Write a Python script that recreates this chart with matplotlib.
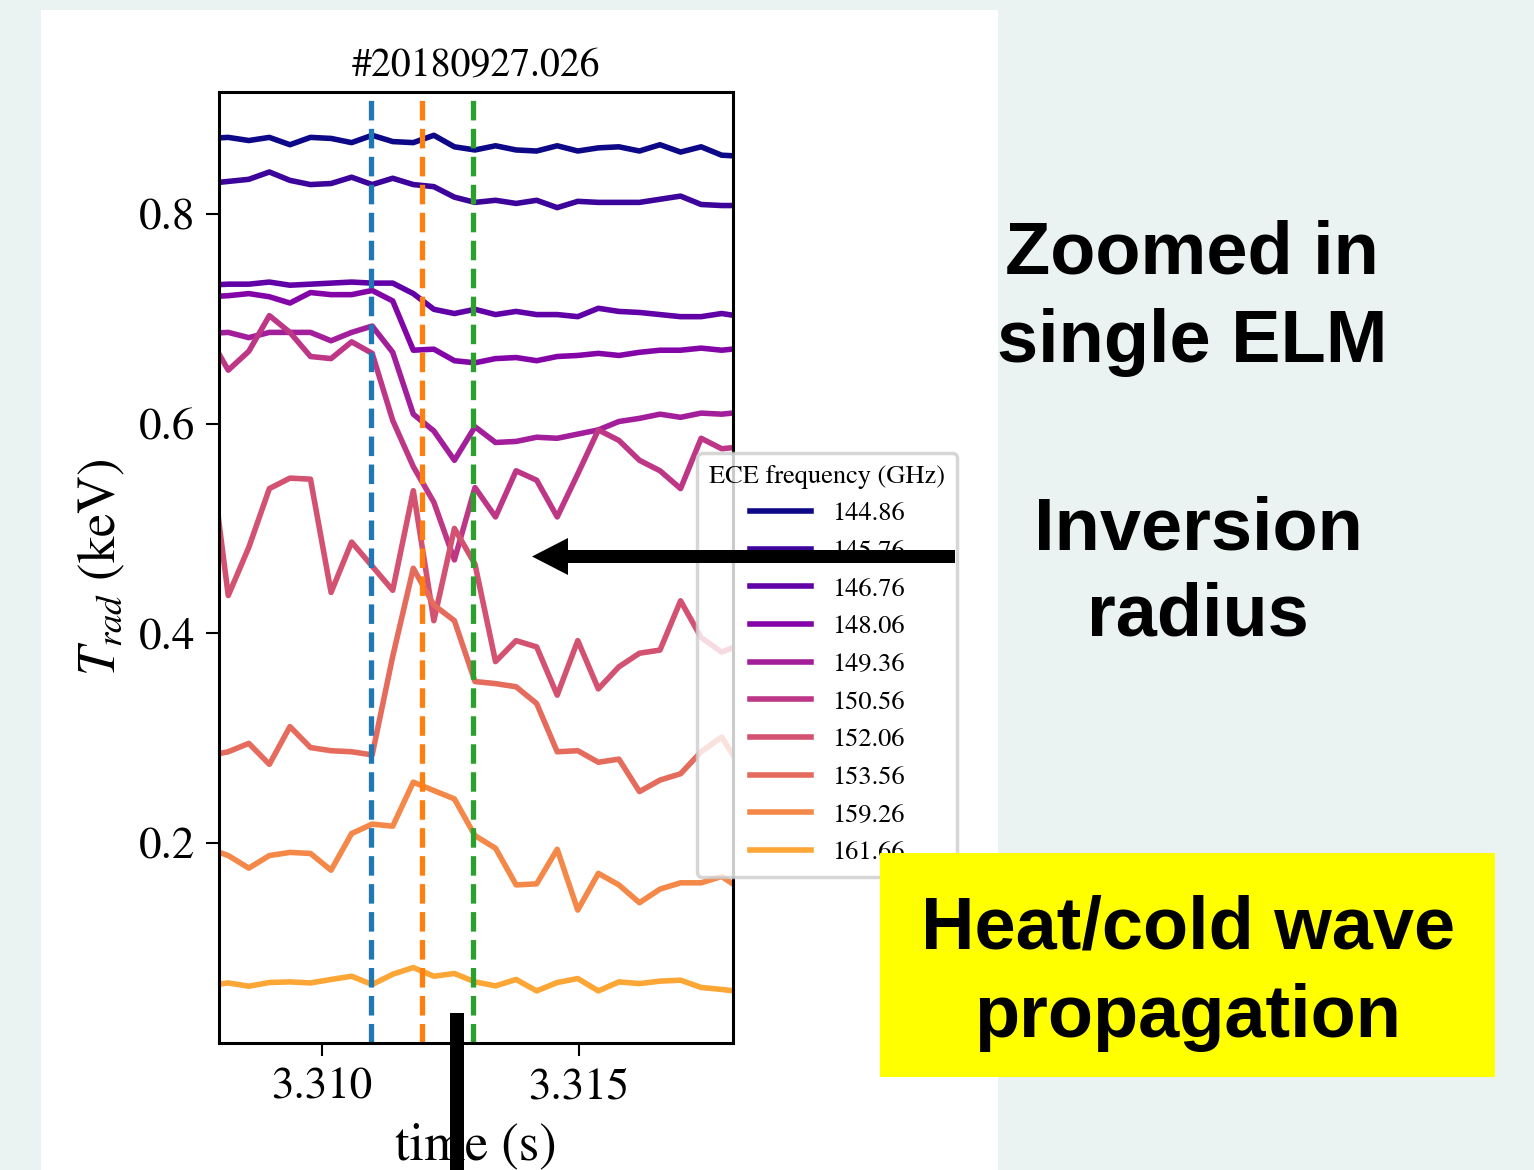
import numpy as np
import matplotlib
matplotlib.use('Agg')
import matplotlib.pyplot as plt
from matplotlib.patches import Rectangle, Polygon

# ---------------- data ----------------
time = [3.30778, 3.30818, 3.30858, 3.30898, 3.30938, 3.30978, 3.31018, 3.31058,
        3.31098, 3.31138, 3.31178, 3.31218, 3.31258, 3.31298, 3.31338, 3.31378,
        3.31418, 3.31458, 3.31498, 3.31538, 3.31578, 3.31618, 3.31658, 3.31698,
        3.31738, 3.31778, 3.31818]

freqs = ["144.86", "145.76", "146.76", "148.06", "149.36",
         "150.56", "152.06", "153.56", "159.26", "161.66"]

t_144_86 = [0.872, 0.873, 0.870, 0.873, 0.866, 0.873, 0.872, 0.868, 0.875, 0.869,
            0.868, 0.875, 0.864, 0.861, 0.865, 0.861, 0.860, 0.865, 0.860, 0.863,
            0.864, 0.860, 0.866, 0.859, 0.864, 0.856, 0.855]
t_145_76 = [0.829, 0.831, 0.833, 0.840, 0.832, 0.828, 0.829, 0.835, 0.828, 0.834,
            0.828, 0.826, 0.816, 0.811, 0.813, 0.810, 0.813, 0.806, 0.812, 0.811,
            0.811, 0.811, 0.814, 0.817, 0.809, 0.808, 0.808]
t_146_76 = [0.732, 0.733, 0.733, 0.735, 0.732, 0.733, 0.734, 0.735, 0.734, 0.734,
            0.724, 0.709, 0.705, 0.709, 0.704, 0.707, 0.704, 0.704, 0.702, 0.710,
            0.707, 0.706, 0.704, 0.702, 0.702, 0.705, 0.702]
t_148_06 = [0.721, 0.722, 0.724, 0.721, 0.715, 0.725, 0.723, 0.723, 0.727, 0.717,
            0.670, 0.671, 0.660, 0.658, 0.662, 0.663, 0.660, 0.664, 0.665, 0.667,
            0.665, 0.668, 0.670, 0.670, 0.672, 0.670, 0.672]
t_149_36 = [0.686, 0.687, 0.682, 0.687, 0.687, 0.687, 0.679, 0.687, 0.693, 0.668,
            0.609, 0.593, 0.565, 0.597, 0.582, 0.583, 0.587, 0.586, 0.590, 0.594,
            0.602, 0.605, 0.609, 0.606, 0.610, 0.609, 0.611]
t_150_56 = [0.685, 0.651, 0.669, 0.703, 0.687, 0.664, 0.662, 0.678, 0.667, 0.603,
            0.559, 0.525, 0.470, 0.539, 0.511, 0.555, 0.546, 0.511, 0.552, 0.594,
            0.584, 0.565, 0.555, 0.538, 0.586, 0.576, 0.578]
t_152_06 = [0.590, 0.436, 0.482, 0.538, 0.548, 0.547, 0.439, 0.487, 0.464, 0.441,
            0.536, 0.412, 0.500, 0.466, 0.373, 0.393, 0.387, 0.341, 0.393, 0.347,
            0.368, 0.381, 0.384, 0.431, 0.396, 0.382, 0.390]
t_153_56 = [0.283, 0.287, 0.295, 0.275, 0.311, 0.291, 0.288, 0.287, 0.284, 0.378,
            0.462, 0.427, 0.412, 0.354, 0.352, 0.349, 0.333, 0.287, 0.288, 0.277,
            0.280, 0.249, 0.260, 0.266, 0.287, 0.301, 0.270]
t_159_26 = [0.195, 0.188, 0.176, 0.188, 0.191, 0.190, 0.174, 0.209, 0.218, 0.216,
            0.258, 0.250, 0.242, 0.207, 0.195, 0.160, 0.161, 0.194, 0.136, 0.171,
            0.160, 0.143, 0.156, 0.162, 0.162, 0.168, 0.155]
t_161_66 = [0.064, 0.0665, 0.0634, 0.0669, 0.0675, 0.0665, 0.0698, 0.0729, 0.0650, 0.0748,
            0.0812, 0.0729, 0.0755, 0.0675, 0.0637, 0.0698, 0.0589, 0.0669, 0.0707, 0.0589,
            0.0675, 0.0659, 0.0682, 0.0691, 0.0622, 0.0603, 0.058]

series = [t_144_86, t_145_76, t_146_76, t_148_06, t_149_36,
          t_150_56, t_152_06, t_153_56, t_159_26, t_161_66]

elm_times = [3.31095, 3.31195, 3.31295]
elm_colors = ["tab:blue", "tab:orange", "tab:green"]

xticks = [3.310, 3.315]
xticklabels = ["3.310", "3.315"]
yticks = [0.2, 0.4, 0.6, 0.8]
yticklabels = ["0.2", "0.4", "0.6", "0.8"]

# ---------------- figure ----------------
W, H = 1534, 1170
plt.rcParams['font.family'] = ['STIXGeneral', 'DejaVu Serif']
plt.rcParams['mathtext.fontset'] = 'stix'

fig = plt.figure(figsize=(W / 100, H / 100), dpi=100, facecolor='#ebf3f2')


def fx(px):
    return px / W


def fy(py):
    return 1 - py / H


# white slide panel
fig.add_artist(Rectangle((fx(41), 0), fx(998) - fx(41), fy(9.5),
                         transform=fig.transFigure, facecolor='white',
                         edgecolor='none', zorder=-5))

ax = fig.add_axes([fx(219), fy(1042.7), fx(733) - fx(219), fy(92.3) - fy(1042.7)])
ax.set_facecolor('white')

colors = plt.cm.plasma(np.linspace(0, 0.8, len(freqs)))
for lab, vals, c in zip(freqs, series, colors):
    ax.plot(time, vals, color=c, lw=4.0, label=lab)

for t, c in zip(elm_times, elm_colors):
    ax.axvline(t, color=c, ls='--', lw=3.8)

ax.set_xlim(3.308, 3.318)
ax.set_ylim(0.0095, 0.916)
ax.set_xticks(xticks)
ax.set_xticklabels(xticklabels)
ax.set_yticks(yticks)
ax.set_yticklabels(yticklabels)
ax.tick_params(labelsize=32.4, length=9.4, width=1.5, pad=8, direction='out')
for sp in ax.spines.values():
    sp.set_linewidth(2.2)

ax.set_title('#20180927.026', fontsize=28.6, pad=12)
ax.set_xlabel('time (s)', fontsize=37.8, labelpad=10)
ax.set_ylabel(r'$T_{rad}$ (keV)', fontsize=37.8, labelpad=8)

leg = ax.legend(title='ECE frequency (GHz)', loc='upper left',
                bbox_to_anchor=(fx(697.3), fy(452.7)), bbox_transform=fig.transFigure,
                borderaxespad=0, fontsize=19, title_fontsize=19,
                handlelength=2.3, handletextpad=0.8, labelspacing=0.5,
                borderpad=0.45, framealpha=0.8, fancybox=True)
leg.get_frame().set_linewidth(2.5)
leg.get_frame().set_edgecolor('0.8')

# ---------------- slide overlays ----------------
sans = ['Liberation Sans', 'DejaVu Sans']
big = 53.3
for txt, xc, yb in [('Zoomed in', 1192, 273), ('single ELM', 1192, 362),
                    ('Inversion', 1198, 549), ('radius', 1198, 636)]:
    fig.text(fx(xc), fy(yb), txt, ha='center', va='baseline', fontsize=big,
             fontweight='bold', family=sans, zorder=10)

fig.add_artist(Rectangle((fx(880), fy(1077)), fx(1495) - fx(880), fy(853) - fy(1077),
                         transform=fig.transFigure, facecolor='#ffff00',
                         edgecolor='none', zorder=9))
for txt, xc, yb in [('Heat/cold wave', 1188, 948), ('propagation', 1188, 1037)]:
    fig.text(fx(xc), fy(yb), txt, ha='center', va='baseline', fontsize=big,
             fontweight='bold', family=sans, zorder=10)

arrow_px = [(955, 550), (568, 550), (568, 538), (532, 556.5),
            (568, 575), (568, 563), (955, 563)]
fig.add_artist(Polygon([(fx(a), fy(b)) for a, b in arrow_px], closed=True,
                       transform=fig.transFigure, facecolor='black',
                       edgecolor='none', zorder=10))
fig.add_artist(Rectangle((fx(450), 0), fx(464) - fx(450), fy(1013),
                         transform=fig.transFigure, facecolor='black',
                         edgecolor='none', zorder=10))

fig.savefig('out.png', dpi=100, facecolor=fig.get_facecolor())
